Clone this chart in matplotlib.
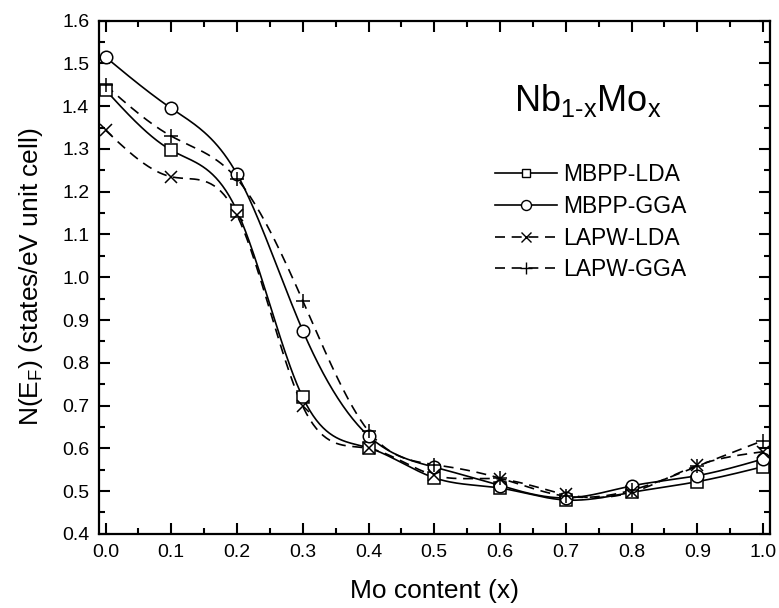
import numpy as np
import matplotlib
matplotlib.use('Agg')
import matplotlib.pyplot as plt
from matplotlib.ticker import MultipleLocator

plt.rcParams['font.family'] = ['Liberation Sans', 'DejaVu Sans']
plt.rcParams['mathtext.fontset'] = 'custom'
plt.rcParams['mathtext.rm'] = 'Liberation Sans'
plt.rcParams['mathtext.it'] = 'Liberation Sans'

# Mo content
x = [0.0, 0.1, 0.2, 0.3, 0.4, 0.5, 0.6, 0.7, 0.8, 0.9, 1.0]

# N(E_F) values
mbpp_lda = [1.438, 1.297, 1.155, 0.719, 0.601, 0.531, 0.507, 0.479, 0.497, 0.522, 0.557]
mbpp_gga = [1.515, 1.395, 1.241, 0.875, 0.629, 0.556, 0.513, 0.484, 0.512, 0.536, 0.575]
lapw_lda = [1.344, 1.235, 1.145, 0.698, 0.600, 0.537, 0.528, 0.492, 0.497, 0.560, 0.592]
lapw_gga = [1.449, 1.330, 1.230, 0.945, 0.640, 0.562, 0.530, 0.488, 0.502, 0.558, 0.618]

labels = ['MBPP-LDA', 'MBPP-GGA', 'LAPW-LDA', 'LAPW-GGA']


def spline(xs, ys, n=400):
    # natural cubic spline through the points, used only to draw the smooth line
    xs = np.asarray(xs, float)
    ys = np.asarray(ys, float)
    k = len(xs)
    h = np.diff(xs)
    A = np.zeros((k, k))
    b = np.zeros(k)
    A[0, 0] = A[-1, -1] = 1
    for i in range(1, k - 1):
        A[i, i - 1] = h[i - 1]
        A[i, i] = 2 * (h[i - 1] + h[i])
        A[i, i + 1] = h[i]
        b[i] = 6 * ((ys[i + 1] - ys[i]) / h[i] - (ys[i] - ys[i - 1]) / h[i - 1])
    m = np.linalg.solve(A, b)
    xx = np.linspace(xs[0], xs[-1], n)
    idx = np.clip(np.searchsorted(xs, xx) - 1, 0, k - 2)
    x0, x1 = xs[idx], xs[idx + 1]
    y0, y1 = ys[idx], ys[idx + 1]
    m0, m1 = m[idx], m[idx + 1]
    hh = x1 - x0
    t0 = x1 - xx
    t1 = xx - x0
    yy = (m0 * t0 ** 3 + m1 * t1 ** 3) / (6 * hh) \
        + (y0 / hh - m0 * hh / 6) * t0 + (y1 / hh - m1 * hh / 6) * t1
    return xx, yy


fig = plt.figure(figsize=(7.79, 6.08), dpi=100)
ax = fig.add_axes([0.127, 0.122, 0.861, 0.844])

series = [mbpp_lda, mbpp_gga, lapw_lda, lapw_gga]
markers = ['s', 'o', 'x', '+']
styles = ['-', '-', (0, (6, 4)), (0, (6, 4))]
sizes = [8, 9, 9, 10]

handles = []
for ys, mk, ls, ms, lab in zip(series, markers, styles, sizes, labels):
    xx, yy = spline(x, ys)
    ax.plot(xx, yy, color='black', lw=1.2, linestyle=ls, zorder=2)
    ax.plot(x, ys, linestyle='none', marker=mk, ms=ms, mfc='white', mec='black',
            mew=1.1, zorder=3)
    h, = ax.plot([], [], color='black', lw=1.2, linestyle=ls, marker=mk, ms=ms * 0.8,
                 mfc='white', mec='black', mew=1.0, label=lab)
    handles.append(h)

ax.set_xlim(-0.01, 1.01)
ax.set_ylim(0.4, 1.6)
ax.xaxis.set_major_locator(MultipleLocator(0.1))
ax.xaxis.set_minor_locator(MultipleLocator(0.05))
ax.yaxis.set_major_locator(MultipleLocator(0.1))
ax.yaxis.set_minor_locator(MultipleLocator(0.05))
ax.xaxis.set_major_formatter(plt.FormatStrFormatter('%.1f'))
ax.yaxis.set_major_formatter(plt.FormatStrFormatter('%.1f'))
ax.tick_params(which='both', direction='in', top=True, right=True, labelsize=14, width=1.5)
ax.tick_params(which='major', length=8, pad=7)
ax.tick_params(which='minor', length=4.5)
for s in ax.spines.values():
    s.set_linewidth(1.6)

ax.set_xlabel('Mo content (x)', fontsize=19, labelpad=13)
ax.set_ylabel(r'N(E$_\mathregular{F}$) (states/eV unit cell)', fontsize=19, labelpad=12)

ax.text(0.734, 1.414, r'Nb$_\mathregular{1\text{-}x}$Mo$_\mathregular{x}$', fontsize=26,
        ha='center', va='center')

ax.legend(handles=handles, loc='upper left', bbox_to_anchor=(0.59, 0.722), frameon=False,
          fontsize=16.5, handlelength=2.7, handletextpad=0.3, labelspacing=0.38,
          borderpad=0, borderaxespad=0, numpoints=1)

plt.savefig('out.png', dpi=100)
